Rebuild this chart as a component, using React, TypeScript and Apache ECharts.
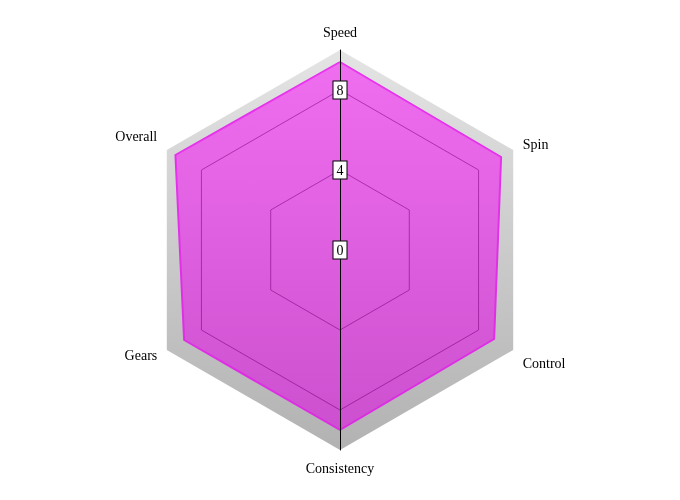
import React, { useEffect, useRef } from "react";
import * as echarts from "echarts";

// categories clockwise from the top, as in the picture
const categories = ["Speed", "Spin", "Control", "Consistency", "Gears", "Overall"];
const ratings = [9.4, 9.3, 8.9, 9.0, 9.0, 9.5];
const maxValue = 10;
const scaleTicks = [0, 4, 8];

// the names do not sit exactly on the spoke direction in the picture
const nameShift: Record<string, string> = {
  Overall: "up",
  Control: "down",
};

const App = () => {
  const chartRef = useRef<HTMLDivElement>(null);

  useEffect(() => {
    const chart = echarts.init(chartRef.current, null, { renderer: "svg" });

    // echarts lays radar axes out counter-clockwise, so flip everything after the first one
    const order = [0, ...categories.slice(1).map((_, i) => categories.length - 1 - i)];
    const indicator = order.map((i) => ({ name: categories[i], min: 0, max: maxValue }));
    const values = order.map((i) => ratings[i]);

    const grayFill = {
      type: "linear",
      x: 0,
      y: 50,
      x2: 0,
      y2: 450,
      global: true,
      colorStops: [
        { offset: 0, color: "#e4e4e4" },
        { offset: 1, color: "#b2b2b2" },
      ],
    };

    const labelStyle = {
      fontFamily: "Liberation Serif",
      fontSize: 14,
      color: "#000",
    };

    const polarAxis = (startAngle: number, labels: boolean) => ({
      angle: { startAngle, show: false, min: 0, max: 360 },
      radius: {
        min: 0,
        max: maxValue,
        interval: scaleTicks[1] - scaleTicks[0],
        z: 10,
        axisLine: { show: true, lineStyle: { color: "#000", width: 1 } },
        axisTick: { show: false },
        splitLine: { show: false },
        axisLabel: {
          show: labels,
          showMaxLabel: false,
          margin: 0,
          rotate: 0,
          align: "center",
          verticalAlign: "middle",
          backgroundColor: "#fff",
          borderColor: "#000",
          borderWidth: 1,
          padding: [2, 3, 1, 3],
          ...labelStyle,
          formatter: (v: number) => (scaleTicks.includes(v) ? String(v) : ""),
        },
      },
    });

    const up = polarAxis(90, true);
    const down = polarAxis(270, false);

    chart.setOption({
      animation: false,
      radar: {
        center: [340, 250],
        radius: 200,
        startAngle: 90,
        shape: "polygon",
        splitNumber: 5,
        indicator,
        axisName: {
          ...labelStyle,
          formatter: (name: string) =>
            nameShift[name] ? `{${nameShift[name]}|${name}}` : name,
          rich: {
            up: { ...labelStyle, padding: [0, 0, 16, 0] },
            down: { ...labelStyle, padding: [16, 0, 0, 0] },
          },
        },
        nameGap: 11,
        axisLine: { show: false },
        axisTick: { show: false },
        axisLabel: { show: false },
        splitLine: {
          show: true,
          lineStyle: {
            color: ["transparent", "transparent", "#1a1a1a", "transparent", "#1a1a1a", "transparent"],
            width: 1,
          },
        },
        splitArea: { show: true, areaStyle: { color: [grayFill] } },
      },
      polar: [
        { center: [340, 250], radius: 200 },
        { center: [340, 250], radius: 200 },
      ],
      angleAxis: [
        { polarIndex: 0, ...up.angle },
        { polarIndex: 1, ...down.angle },
      ],
      radiusAxis: [
        { polarIndex: 0, ...up.radius },
        { polarIndex: 1, ...down.radius },
      ],
      series: [
        {
          type: "radar",
          symbol: "none",
          lineStyle: { color: "#e030e8", width: 2 },
          areaStyle: {
            opacity: 1,
            color: {
              type: "linear",
              x: 0,
              y: 0,
              x2: 0,
              y2: 1,
              colorStops: [
                { offset: 0, color: "rgba(245, 60, 245, 0.7)" },
                { offset: 1, color: "rgba(214, 37, 218, 0.7)" },
              ],
            },
          },
          data: [{ value: values, name: "Ratings" }],
        },
      ],
    });

    return () => chart.dispose();
  }, []);

  return (
    <div
      ref={chartRef}
      style={{ position: "fixed", left: 0, top: 0, width: "680px", height: "500px" }}
    />
  );
};

export default App;
